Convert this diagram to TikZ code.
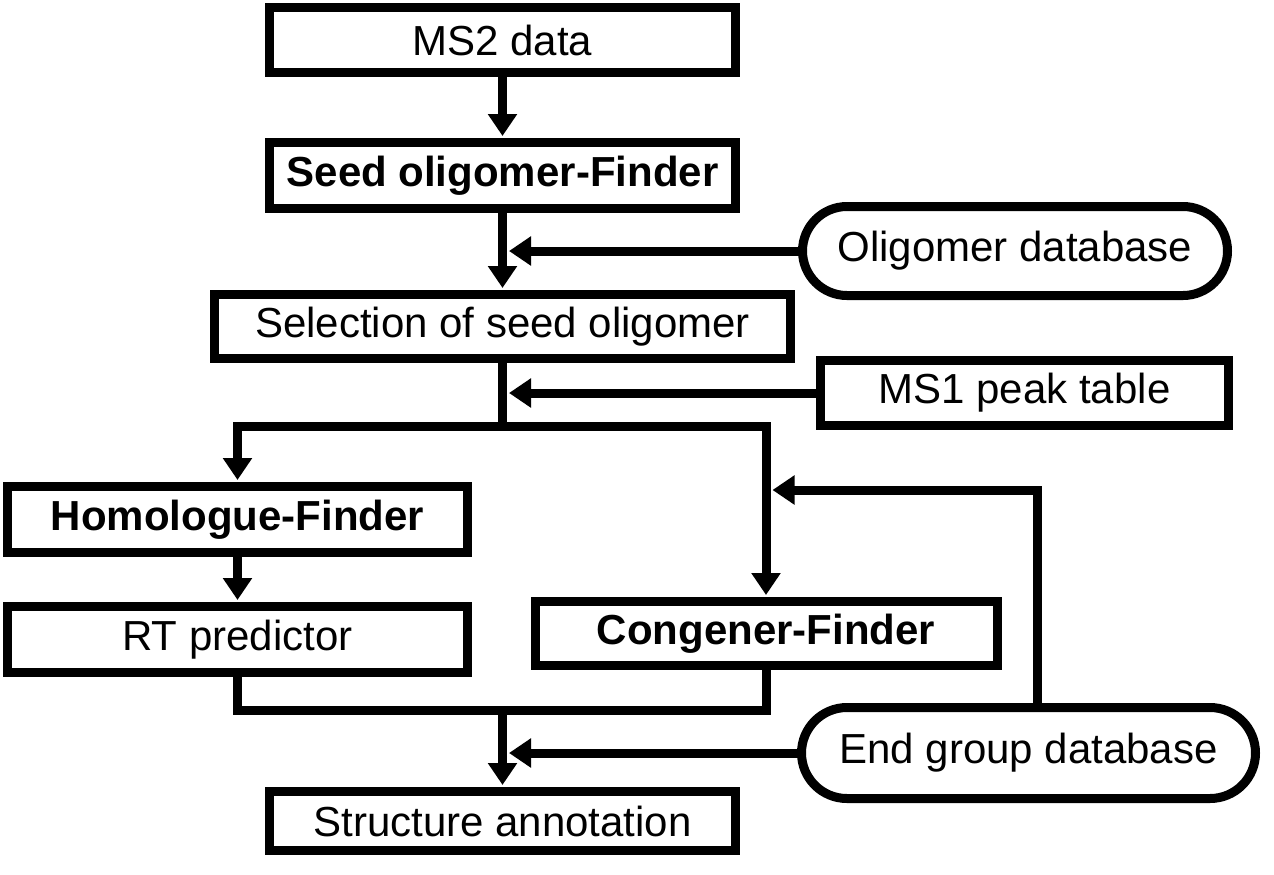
\documentclass[tikz,border=0pt]{standalone}
\usepackage{fontspec}
\setmainfont{Liberation Sans}
\usetikzlibrary{arrows.meta,shapes.misc,calc}
\begin{document}
\begin{tikzpicture}[x=0.5pt,y=-0.5pt,
  every node/.style={font=\fontsize{21pt}{25pt}\selectfont, inner sep=0pt, line width=4.5pt, draw=black},
  boxnode/.style={rectangle},
  dbnode/.style={rounded rectangle},
  conn/.style={line width=4.5pt, line join=miter},
  arr/.style={conn, -{Triangle[length=11pt,width=14pt]}, shorten >=1pt}
]
\useasboundingbox (0,0) rectangle (1274,874);
\node[boxnode, minimum width=233pt, minimum height=32.5pt] (ms2) at (502.5,40) {MS2 data};
\node[boxnode, minimum width=233pt, minimum height=33pt] (seed) at (502.5,175.5) {\bfseries Seed oligomer-Finder};
\node[boxnode, minimum width=288pt, minimum height=32pt] (sel) at (502.5,326.5) {Selection of seed oligomer};
\node[dbnode, minimum width=212.5pt, minimum height=44.5pt] (olig) at (1015,251) {Oligomer database};
\node[boxnode, minimum width=204pt, minimum height=32.5pt] (ms1) at (1024.5,393) {MS1 peak table};
\node[boxnode, minimum width=230pt, minimum height=33pt] (hom) at (237.5,519.5) {\bfseries Homologue-Finder};
\node[boxnode, minimum width=230pt, minimum height=33pt] (rt) at (237.5,639.5) {RT predictor};
\node[boxnode, minimum width=231pt, minimum height=32pt] (cong) at (766,633.5) {\bfseries Congener-Finder};
\node[dbnode, minimum width=227pt, minimum height=45.5pt] (endg) at (1028.5,753) {End group database};
\node[boxnode, minimum width=233pt, minimum height=29.5pt] (struct) at (502.5,821) {Structure annotation};

\coordinate (br) at (502.5,426);
\coordinate (mrg) at (502.5,710);
\coordinate (fb) at (1037,490);

\draw[arr] (ms2.south) -- (seed.south |- seed.north);
\draw[arr] (seed.south) -- (sel.north);
\draw[arr] (olig.west) -- ($(olig.west -| seed.south)+(4.5,0)$);
\draw[conn] (sel.south) -- (br);
\draw[arr] (ms1.west) -- ($(ms1.west -| sel.south)+(4.5,0)$);
\draw[arr] (br) -| (hom.north);
\draw[arr] (br) -| (cong.north);
\draw[arr] (hom.south) -- (rt.north);
\draw[arr] (endg.north -| fb) -- (fb) -- ($(fb -| cong.north)+(4.5,0)$);
\draw[conn] (rt.south) |- (mrg);
\draw[conn] (cong.south) |- (mrg);
\draw[arr] (mrg) -- (struct.north);
\draw[arr] (endg.west) -- ($(endg.west -| mrg)+(4.5,0)$);
\end{tikzpicture}
\end{document}
